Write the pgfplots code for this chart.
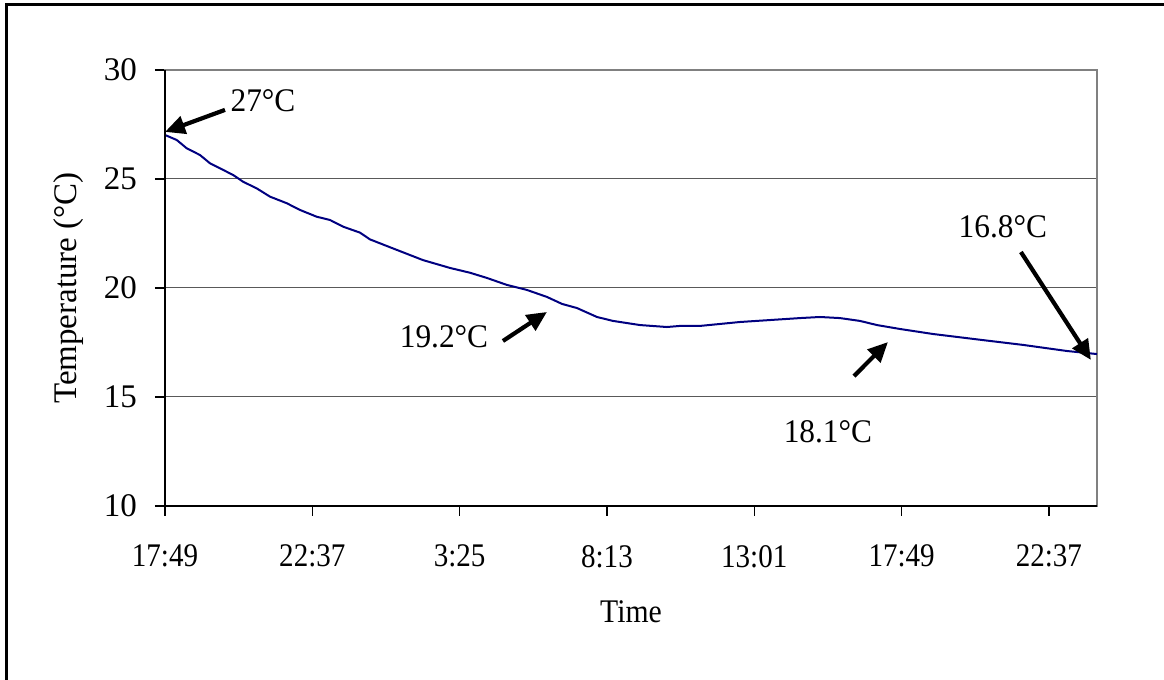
\documentclass[border=0pt]{standalone}
\usepackage{fontspec}
\setmainfont{Liberation Serif}
\usepackage{pgfplots}
\pgfplotsset{compat=1.18}
\usetikzlibrary{arrows.meta}
\newcommand\f{\fontsize{16.5pt}{19pt}\selectfont}
\begin{document}
\begin{tikzpicture}
\useasboundingbox (0,0) rectangle (582pt,340pt);
\draw[line width=1.5pt] (3.25pt,-10pt) -- (3.25pt,337.5pt) -- (600pt,337.5pt);
\begin{axis}[
  at={(82.5pt,87pt)}, anchor=south west,
  scale only axis, width=466pt, height=218pt,
  xmin=0, xmax=1822, ymin=10, ymax=30,
  xtick={0,288,576,864,1152,1440,1728},
  xticklabels={17:49,22:37,3:25,8:13,13:01,17:49,22:37},
  ytick={10,15,20,25,30},
  xtick pos=bottom, ytick pos=left,
  ymajorgrids, major grid style={black!65, line width=0.5pt},
  tick align=outside, major tick length=5pt,
  tick style={black, line width=0.6pt},
  axis line style={black!50, line width=0.8pt},
  /pgf/number format/assume math mode=true,
  tick label style={font=\f},
  xticklabel style={yshift=-11pt, xscale=0.88},
  yticklabel style={xshift=-5.5pt},
  label style={font=\f},
  xlabel={Time}, ylabel={Temperature (°C)},
  xlabel style={at={(axis description cs:0.5,-0.243)}, anchor=center, xscale=0.9},
  ylabel style={at={(axis description cs:-0.104,0.5)}, anchor=center},
  clip=false,
]
\addplot[color={rgb,255:red,0;green,0;blue,128}, line width=1pt] coordinates {
(0,27.02) (22.9,26.79) (42.4,26.41) (68.4,26.10) (88.0,25.72) (107.5,25.49)
(133.5,25.18) (153.0,24.87) (179.3,24.57) (205.3,24.19) (237.9,23.89) (263.9,23.58)
(296.5,23.27) (322.5,23.12) (348.5,22.81) (381.2,22.54) (400.7,22.23) (439.8,21.87)
(504.3,21.28) (557.1,20.92) (596.2,20.70) (629.4,20.46) (668.5,20.14) (707.6,19.91)
(746.7,19.59) (776.1,19.27) (805.4,19.08) (844.5,18.67) (875.8,18.49) (928.5,18.30)
(981.3,18.21) (1006.7,18.26) (1045.8,18.26) (1124.0,18.44) (1182.7,18.53) (1241.3,18.62)
(1280.4,18.67) (1319.5,18.62) (1358.6,18.49) (1391.8,18.30) (1436.8,18.12) (1501.3,17.89)
(1599.0,17.61) (1677.2,17.39) (1763.2,17.11) (1821.9,16.97)
};
\draw[black, line width=0.9pt] (rel axis cs:0,1) -- (rel axis cs:0,0) -- (rel axis cs:1,0);
\tikzset{arr/.style={-{Triangle[length=10pt,width=9pt]}, line width=2.1pt}}
\draw[arr] (axis cs:117.3,28.17) -- (axis cs:0,27.16);
\draw[arr] (axis cs:660.7,17.57) -- (axis cs:746.7,18.90);
\draw[arr] (axis cs:1346.9,15.96) -- (axis cs:1413.3,17.52);
\draw[arr] (axis cs:1673.3,21.65) -- (axis cs:1810.1,16.70);
\node[font=\f, xscale=0.95] at (axis cs:191.6,28.58) {27°C};
\node[font=\f, xscale=0.95] at (axis cs:545.4,17.75) {19.2°C};
\node[font=\f, xscale=0.95] at (axis cs:1296,13.39) {18.1°C};
\node[font=\f, xscale=0.95] at (axis cs:1638,22.80) {16.8°C};
\end{axis}
\end{tikzpicture}
\end{document}
